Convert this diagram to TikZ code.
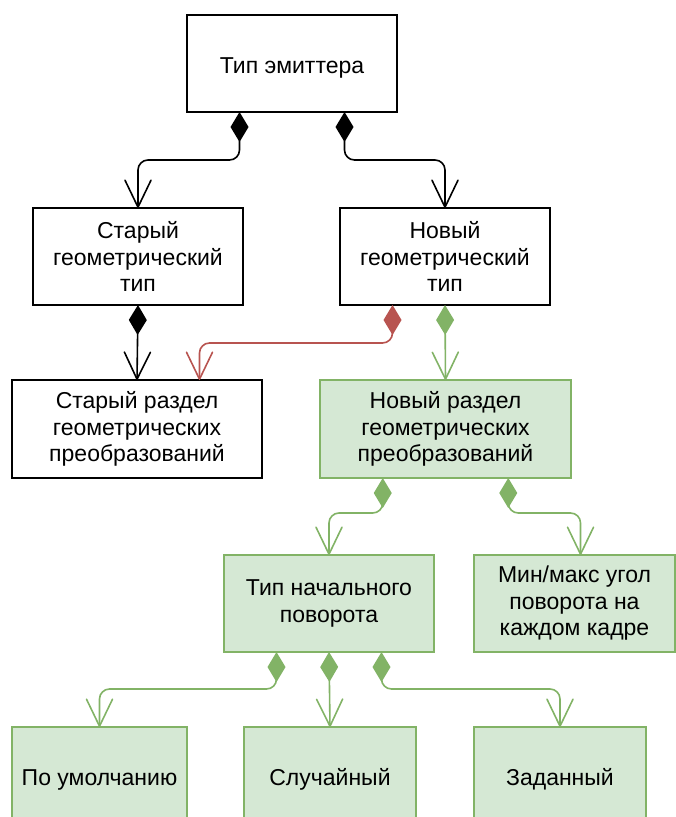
\documentclass[tikz,border=0pt]{standalone}
\usepackage{fontspec}
\setmainfont{Liberation Sans}
\usetikzlibrary{arrows.meta, calc}

\definecolor{greenfill}{HTML}{D5E8D4}
\definecolor{greenline}{HTML}{82B366}
\definecolor{redline}{HTML}{B85450}

\tikzset{
    box/.style={draw, line width=1.6pt, rectangle, inner sep=0pt, outer sep=0pt,
        align=center, font=\fontsize{23}{26.5}\selectfont,
        execute at begin node={\rule{0pt}{24.5pt}}},
    bigbox/.style={box, minimum width=210pt, minimum height=97pt},
    greenbox/.style={draw=greenline, fill=greenfill},
    link/.style={line width=1.6pt, rounded corners=10pt, line join=round,
        {Diamond[length=30pt,width=18pt]}-{Straight Barb[length=27pt,width=26pt,round]}},
}

\begin{document}
\begin{tikzpicture}[x=1pt, y=-1pt]
    % picture frame
    \useasboundingbox (0,0) rectangle (676,817);

    % centres of the boxes
    \coordinate (E) at (292,63.5);
    \coordinate (OT) at (138,256.5);
    \coordinate (NT) at (445,256.5);
    \coordinate (OS) at (137,429);
    \coordinate (NS) at (445.5,429);
    \coordinate (SR) at (329,603.5);
    \coordinate (MM) at (574.5,603.5);
    \coordinate (D) at (99.5,775.5);
    \coordinate (R) at (330,775.5);
    \coordinate (G) at (560,775.5);

    % boxes
    \node[bigbox] (emit) at (E) {Тип эмиттера};
    \node[bigbox] (oldtype) at (OT) {Старый\\геометрический\\тип};
    \node[bigbox] (newtype) at (NT) {Новый\\геометрический\\тип};
    \node[box, minimum width=250pt, minimum height=98pt] (oldsec) at (OS)
        {Старый раздел\\геометрических\\преобразований};
    \node[box, greenbox, minimum width=251pt, minimum height=98pt] (newsec) at (NS)
        {Новый раздел\\геометрических\\преобразований};
    \node[bigbox, greenbox] (startrot) at (SR) {Тип начального\\поворота};
    \node[box, greenbox, minimum width=201pt, minimum height=97pt] (minmax) at (MM)
        {Мин/макс угол\\поворота на\\каждом кадре};
    \node[box, greenbox, minimum width=175pt, minimum height=97pt] (default) at (D) {По умолчанию};
    \node[box, greenbox, minimum width=172pt, minimum height=97pt] (random) at (R) {Случайный};
    \node[box, greenbox, minimum width=172pt, minimum height=97pt] (given) at (G) {Заданный};

    % black links
    \draw[link] ($(emit.south west)!0.25!(emit.south east)$) -- ++(0,48) -| (oldtype.north);
    \draw[link] ($(emit.south west)!0.75!(emit.south east)$) -- ++(0,48) -| (newtype.north);
    \draw[link] (oldtype.south) -- (oldsec.north);

    % red link
    \draw[link, redline] ($(newtype.south west)!0.25!(newtype.south east)$) -- ++(0,38)
        -| ($(oldsec.north west)!0.75!(oldsec.north east)$);

    % green links
    \draw[link, greenline] (newtype.south) -- (newsec.north);
    \draw[link, greenline] ($(newsec.south west)!0.25!(newsec.south east)$) -- ++(0,35)
        -| (startrot.north);
    \draw[link, greenline] ($(newsec.south west)!0.75!(newsec.south east)$) -- ++(0,35)
        -| ($(minmax.north west)!0.53!(minmax.north east)$);
    \draw[link, greenline] ($(startrot.south west)!0.25!(startrot.south east)$) -- ++(0,37)
        -| (default.north);
    \draw[link, greenline] (startrot.south) -- (random.north);
    \draw[link, greenline] ($(startrot.south west)!0.75!(startrot.south east)$) -- ++(0,37)
        -| (given.north);
\end{tikzpicture}
\end{document}
